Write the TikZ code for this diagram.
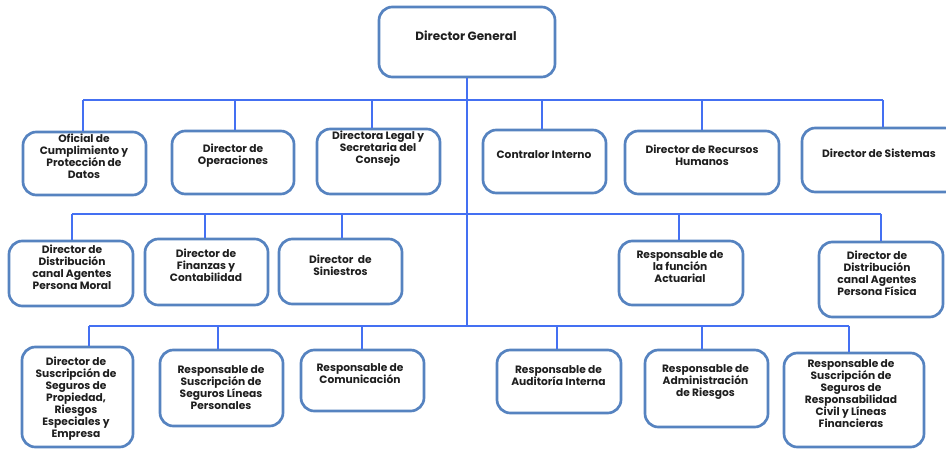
\documentclass[tikz,border=0pt]{standalone}
\usepackage{fontspec}
\setmainfont{Poppins}
\definecolor{boxc}{HTML}{5683C0}
\definecolor{linec}{HTML}{4470F2}
\tikzset{
  orgbox/.style={draw=boxc, line width=2pt, rounded corners=10pt, fill=white, inner sep=0pt},
  conn/.style={draw=linec, line width=1.6pt},
  txt/.style={align=center, font=\fontsize{8}{9}\selectfont\bfseries, text=black!88, inner sep=0pt},
}
% name, x1, x2, y1, y2 (pixels, y downward)
\newcommand\mkorgbox[5]{%
  \node[orgbox, minimum width={(#3-#2)*0.75pt}, minimum height={(#5-#4)*0.75pt}]
    (#1) at ({(#2+#3)/2},{(#4+#5)/2}) {};}
\begin{document}
\begin{tikzpicture}[x=0.75pt,y=-0.75pt]
\useasboundingbox (0,0) rectangle (946,449);
\clip (0,0) rectangle (946,449);
% bus coordinates
\coordinate (l1a) at (83,100);  \coordinate (l1b) at (235,100); \coordinate (l1c) at (372,100);
\coordinate (l1d) at (542,100); \coordinate (l1e) at (702,100); \coordinate (l1f) at (883,100);
\coordinate (l2a) at (72,214);  \coordinate (l2b) at (205,214); \coordinate (l2c) at (342,214);
\coordinate (l2d) at (679,214); \coordinate (l2e) at (881,214);
\coordinate (l3a) at (89,326);  \coordinate (l3b) at (218,326); \coordinate (l3c) at (362,326);
\coordinate (l3d) at (557,326); \coordinate (l3e) at (702,326); \coordinate (l3f) at (849,326);
% boxes
\mkorgbox{dg}{379}{555}{7}{77}
\mkorgbox{ofi}{23}{146}{132}{195}
\mkorgbox{ope}{172}{294}{131}{194}
\mkorgbox{leg}{317}{440}{129}{194}
\mkorgbox{con}{483}{606}{130}{193}
\mkorgbox{rrh}{625}{779}{131}{194}
\mkorgbox{sis}{802}{958}{128}{192}
\mkorgbox{dmo}{9}{133}{241}{306}
\mkorgbox{fin}{145}{268}{239}{305}
\mkorgbox{sin}{279}{402}{239}{304}
\mkorgbox{act}{619}{743}{241}{305}
\mkorgbox{dfi}{819}{943}{242}{317}
\mkorgbox{pro}{22}{133}{347}{447}
\mkorgbox{per}{160}{283}{350}{426}
\mkorgbox{com}{301}{424}{350}{411}
\mkorgbox{aud}{497}{621}{350}{413}
\mkorgbox{rie}{645}{768}{350}{427}
\mkorgbox{rc}{784}{924}{353}{447}
% connectors
\draw[conn] (l1a) -- (l1f);
\draw[conn] (l2a) -- (l2e);
\draw[conn] (l3a) -- (l3f);
\draw[conn] (dg.south) -- (dg.south |- l3c);
\foreach \c/\n in {l1a/ofi,l1b/ope,l1c/leg,l1d/con,l1e/rrh,l1f/sis,
                   l2a/dmo,l2b/fin,l2c/sin,l2d/act,l2e/dfi,
                   l3a/pro,l3b/per,l3c/com,l3d/aud,l3e/rie,l3f/rc}
  \draw[conn] (\c) -- (\c |- \n.north);
% texts
\node[txt, font=\fontsize{9}{10}\selectfont\bfseries] (tdg) at (466,36) {Director General};
\node[txt] (tofi) at (84,156.5) {Oficial de\\Cumplimiento y\\Protección de\\Datos};
\node[txt] (tope) at (233,156) {Director de\\Operaciones};
\node[txt] (tleg) at (378,149) {Directora Legal y\\Secretaria del\\Consejo};
\node[txt] (tcon) at (544,155) {Contralor Interno};
\node[txt] (trrh) at (702,155.5) {Director de Recursos\\Humanos};
\node[txt] (tsis) at (879,153) {Director de Sistemas};
\node[txt] (tdmo) at (72,267) {Director de\\Distribución\\canal Agentes\\Persona Moral};
\node[txt] (tfin) at (206,265.5) {Director de\\Finanzas y\\Contabilidad};
\node[txt] (tsin) at (340.5,265) {Director\ \ de\\Siniestros};
\node[txt] (tact) at (680,267) {Responsable de\\la función\\Actuarial};
\node[txt] (tdfi) at (877,273.5) {Director de\\Distribución\\canal Agentes\\Persona Física};
\node[txt] (tpro) at (76,398.5) {Director de\\Suscripción de\\Seguros de\\Propiedad,\\Riesgos\\Especiales y\\Empresa};
\node[txt] (tper) at (221,388) {Responsable de\\Suscripción de\\Seguros Líneas\\Personales};
\node[txt] (tcom) at (360,374) {Responsable de\\Comunicación};
\node[txt] (taud) at (558.5,376) {Responsable de\\Auditoría Interna};
\node[txt] (trie) at (705.5,382) {Responsable de\\Administración\\de Riesgos};
\node[txt] (trc) at (851,394) {Responsable de\\Suscripción de\\Seguros de\\Responsabilidad\\Civil y Líneas\\Financieras};
\end{tikzpicture}
\end{document}
